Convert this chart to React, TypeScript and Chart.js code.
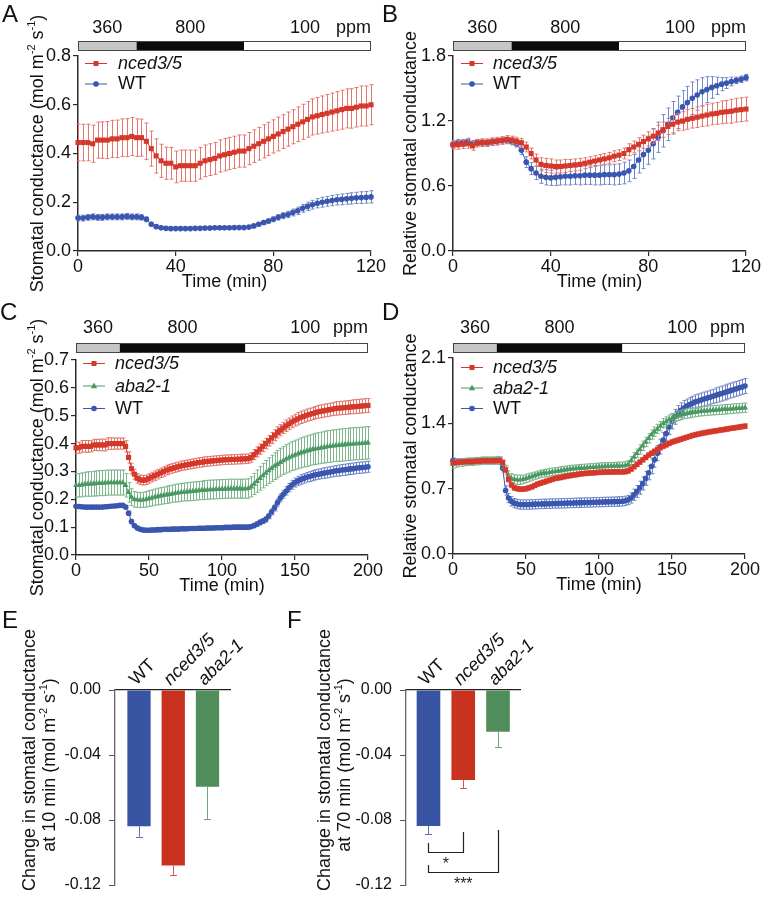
import React, { useEffect, useRef } from "react";
import { Chart, registerables } from "chart.js";

Chart.register(...registerables);

const FONT = '"Liberation Sans", Arial, Helvetica, sans-serif';
Chart.defaults.font.family = FONT;
Chart.defaults.color = "#111";

// ---------- data ----------
const TIME_AB = [0,2,4,6,8,10,12,14,16,18,20,22,24,26,28,30,32,34,36,38,40,42,44,46,48,50,52,54,56,58,60,62,64,66,68,70,72,74,76,78,80,82,84,86,88,90,92,94,96,98,100,102,104,106,108,110,112,114,116,118,120];
const TIME_CD = [0,2,4,6,8,10,12,14,16,18,20,22,24,26,28,30,32,34,36,38,40,42,44,46,48,50,52,54,56,58,60,62,64,66,68,70,72,74,76,78,80,82,84,86,88,90,92,94,96,98,100,102,104,106,108,110,112,114,116,118,120,122,124,126,128,130,132,134,136,138,140,142,144,146,148,150,152,154,156,158,160,162,164,166,168,170,172,174,176,178,180,182,184,186,188,190,192,194,196,198,200];

const A_NCED = [0.445,0.445,0.445,0.44,0.455,0.455,0.455,0.46,0.46,0.465,0.465,0.47,0.465,0.465,0.45,0.42,0.39,0.37,0.36,0.36,0.345,0.35,0.35,0.35,0.35,0.36,0.37,0.375,0.38,0.39,0.395,0.4,0.405,0.41,0.41,0.42,0.43,0.44,0.45,0.46,0.47,0.48,0.49,0.5,0.51,0.52,0.53,0.54,0.55,0.555,0.56,0.565,0.57,0.575,0.58,0.585,0.585,0.59,0.595,0.595,0.6];
const A_NCED_ERR = [0.075,0.075,0.075,0.076,0.074,0.075,0.076,0.076,0.077,0.077,0.078,0.078,0.077,0.076,0.075,0.072,0.07,0.068,0.066,0.065,0.065,0.064,0.064,0.064,0.064,0.065,0.065,0.065,0.065,0.066,0.066,0.066,0.066,0.066,0.066,0.066,0.067,0.067,0.068,0.068,0.068,0.069,0.069,0.07,0.07,0.071,0.072,0.073,0.074,0.075,0.076,0.077,0.078,0.079,0.08,0.08,0.081,0.081,0.082,0.082,0.082];
const A_WT = [0.135,0.135,0.138,0.14,0.138,0.138,0.14,0.14,0.14,0.14,0.142,0.14,0.14,0.138,0.13,0.11,0.1,0.095,0.093,0.092,0.092,0.092,0.092,0.092,0.093,0.093,0.094,0.094,0.095,0.095,0.095,0.095,0.096,0.096,0.096,0.098,0.103,0.11,0.117,0.123,0.13,0.138,0.145,0.15,0.158,0.165,0.175,0.183,0.19,0.196,0.2,0.204,0.207,0.21,0.212,0.214,0.216,0.218,0.219,0.22,0.222];
const A_WT_ERR = [0.012,0.012,0.012,0.012,0.012,0.012,0.012,0.012,0.012,0.012,0.012,0.012,0.012,0.011,0.01,0.008,0.007,0.006,0.006,0.005,0.005,0.005,0.005,0.005,0.005,0.005,0.005,0.005,0.005,0.005,0.005,0.005,0.005,0.005,0.005,0.005,0.006,0.007,0.008,0.009,0.01,0.011,0.012,0.013,0.014,0.015,0.016,0.017,0.018,0.019,0.02,0.02,0.021,0.021,0.022,0.022,0.023,0.023,0.024,0.024,0.025];

const B_NCED = [0.98,0.98,0.985,0.99,0.97,0.995,1.0,1.0,1.01,1.015,1.02,1.03,1.025,1.015,1.0,0.96,0.9,0.84,0.8,0.79,0.785,0.78,0.78,0.785,0.79,0.795,0.8,0.81,0.82,0.83,0.84,0.85,0.86,0.875,0.885,0.9,0.935,0.96,0.985,1.01,1.035,1.06,1.09,1.12,1.15,1.17,1.19,1.2,1.215,1.225,1.235,1.245,1.255,1.265,1.27,1.28,1.285,1.29,1.3,1.305,1.31];
const B_NCED_ERR = [0.04,0.04,0.04,0.04,0.04,0.035,0.035,0.035,0.035,0.035,0.035,0.035,0.035,0.035,0.04,0.045,0.05,0.055,0.06,0.065,0.065,0.06,0.06,0.06,0.055,0.055,0.055,0.05,0.05,0.05,0.05,0.05,0.05,0.05,0.05,0.05,0.055,0.055,0.06,0.06,0.065,0.065,0.07,0.07,0.075,0.08,0.08,0.085,0.09,0.09,0.095,0.095,0.1,0.1,0.1,0.105,0.105,0.11,0.11,0.11,0.11];
const B_WT = [0.98,1.0,1.0,1.01,0.99,1.0,1.0,1.0,1.005,1.01,1.02,1.02,1.01,0.99,0.93,0.82,0.76,0.72,0.69,0.68,0.675,0.68,0.685,0.69,0.69,0.695,0.695,0.7,0.7,0.7,0.7,0.705,0.705,0.705,0.71,0.72,0.74,0.78,0.84,0.89,0.93,0.99,1.05,1.11,1.17,1.23,1.28,1.33,1.37,1.41,1.44,1.47,1.49,1.51,1.525,1.54,1.55,1.565,1.575,1.585,1.6];
const B_WT_ERR = [0.03,0.03,0.03,0.03,0.03,0.03,0.03,0.03,0.03,0.03,0.03,0.03,0.03,0.03,0.04,0.05,0.055,0.06,0.065,0.07,0.07,0.075,0.075,0.08,0.08,0.08,0.085,0.085,0.085,0.09,0.09,0.09,0.09,0.095,0.095,0.1,0.1,0.11,0.12,0.13,0.13,0.14,0.14,0.15,0.15,0.15,0.15,0.15,0.15,0.15,0.14,0.13,0.12,0.1,0.08,0.06,0.05,0.04,0.03,0.03,0.03];

const C_NCED = [0.385,0.385,0.39,0.39,0.39,0.39,0.395,0.395,0.395,0.395,0.395,0.4,0.4,0.4,0.4,0.4,0.4,0.39,0.35,0.31,0.29,0.275,0.27,0.268,0.27,0.275,0.28,0.285,0.29,0.295,0.3,0.305,0.308,0.311,0.314,0.317,0.32,0.322,0.324,0.326,0.328,0.33,0.332,0.333,0.335,0.336,0.337,0.338,0.339,0.34,0.341,0.342,0.342,0.343,0.343,0.344,0.344,0.345,0.345,0.346,0.35,0.36,0.37,0.38,0.39,0.4,0.41,0.42,0.43,0.44,0.448,0.456,0.464,0.471,0.478,0.484,0.489,0.494,0.498,0.502,0.505,0.508,0.511,0.514,0.516,0.518,0.52,0.522,0.524,0.526,0.527,0.528,0.529,0.53,0.531,0.532,0.533,0.534,0.535,0.536,0.537];
const C_NCED_ERR = [0.02,0.02,0.021,0.021,0.021,0.02,0.02,0.02,0.021,0.021,0.021,0.021,0.021,0.02,0.02,0.02,0.02,0.02,0.02,0.019,0.018,0.017,0.017,0.017,0.017,0.017,0.017,0.017,0.017,0.017,0.017,0.017,0.017,0.017,0.017,0.017,0.017,0.017,0.017,0.017,0.017,0.017,0.017,0.017,0.017,0.017,0.017,0.017,0.017,0.017,0.017,0.017,0.017,0.017,0.017,0.017,0.017,0.017,0.017,0.017,0.017,0.018,0.018,0.018,0.019,0.019,0.019,0.02,0.02,0.02,0.02,0.02,0.021,0.021,0.021,0.021,0.022,0.022,0.022,0.022,0.022,0.022,0.022,0.023,0.023,0.023,0.023,0.023,0.023,0.024,0.024,0.024,0.024,0.024,0.024,0.025,0.025,0.025,0.025,0.025,0.025];
const C_ABA = [0.25,0.25,0.252,0.254,0.255,0.255,0.256,0.257,0.258,0.258,0.259,0.26,0.26,0.26,0.26,0.26,0.26,0.25,0.225,0.208,0.2,0.198,0.197,0.198,0.2,0.203,0.205,0.208,0.21,0.212,0.214,0.216,0.218,0.22,0.222,0.223,0.225,0.226,0.227,0.228,0.229,0.23,0.231,0.232,0.233,0.234,0.235,0.235,0.236,0.236,0.237,0.237,0.238,0.238,0.238,0.238,0.238,0.238,0.238,0.239,0.245,0.255,0.265,0.275,0.285,0.294,0.303,0.311,0.319,0.326,0.333,0.339,0.345,0.35,0.355,0.359,0.363,0.367,0.37,0.373,0.376,0.379,0.381,0.383,0.385,0.387,0.389,0.39,0.392,0.393,0.394,0.395,0.396,0.397,0.398,0.399,0.4,0.4,0.401,0.402,0.403];
const C_ABA_ERR = [0.042,0.042,0.043,0.043,0.044,0.044,0.044,0.045,0.045,0.045,0.045,0.045,0.045,0.045,0.045,0.045,0.045,0.042,0.035,0.03,0.028,0.027,0.027,0.027,0.028,0.028,0.029,0.029,0.03,0.03,0.03,0.031,0.031,0.031,0.032,0.032,0.032,0.032,0.033,0.033,0.033,0.033,0.033,0.033,0.034,0.034,0.034,0.034,0.034,0.034,0.034,0.034,0.034,0.034,0.034,0.034,0.034,0.034,0.034,0.035,0.036,0.038,0.04,0.042,0.044,0.045,0.046,0.047,0.048,0.049,0.05,0.05,0.051,0.052,0.052,0.053,0.053,0.054,0.054,0.055,0.055,0.055,0.056,0.056,0.056,0.057,0.057,0.057,0.057,0.057,0.058,0.058,0.058,0.058,0.058,0.058,0.058,0.058,0.058,0.058,0.058];
const C_WT = [0.175,0.174,0.173,0.172,0.172,0.172,0.172,0.172,0.172,0.172,0.173,0.174,0.175,0.176,0.177,0.178,0.178,0.172,0.15,0.12,0.105,0.097,0.092,0.09,0.089,0.089,0.09,0.09,0.091,0.091,0.092,0.092,0.092,0.093,0.093,0.093,0.094,0.094,0.094,0.095,0.095,0.095,0.096,0.096,0.096,0.097,0.097,0.097,0.098,0.098,0.098,0.099,0.099,0.099,0.1,0.1,0.1,0.1,0.1,0.1,0.102,0.106,0.111,0.117,0.122,0.128,0.14,0.155,0.17,0.188,0.205,0.218,0.23,0.242,0.252,0.26,0.266,0.271,0.275,0.279,0.282,0.285,0.288,0.29,0.292,0.294,0.296,0.298,0.3,0.302,0.303,0.305,0.306,0.308,0.309,0.31,0.312,0.313,0.314,0.315,0.317];
const C_WT_ERR = [0.005,0.005,0.005,0.005,0.005,0.005,0.005,0.005,0.005,0.005,0.005,0.005,0.005,0.005,0.005,0.005,0.005,0.006,0.008,0.008,0.007,0.007,0.007,0.007,0.007,0.007,0.007,0.007,0.007,0.007,0.007,0.007,0.007,0.007,0.007,0.007,0.007,0.007,0.007,0.007,0.007,0.007,0.007,0.007,0.007,0.007,0.007,0.007,0.007,0.007,0.007,0.007,0.007,0.007,0.007,0.007,0.007,0.007,0.007,0.007,0.007,0.008,0.008,0.009,0.009,0.01,0.01,0.011,0.012,0.013,0.014,0.014,0.015,0.015,0.016,0.016,0.016,0.017,0.017,0.017,0.018,0.018,0.018,0.018,0.018,0.019,0.019,0.019,0.019,0.019,0.02,0.02,0.02,0.02,0.02,0.02,0.02,0.02,0.02,0.02,0.02];

const D_NCED = [0.98,0.98,0.985,0.985,0.99,0.99,0.99,0.99,0.995,0.995,1.0,1.0,1.0,1.0,1.0,1.0,1.0,0.98,0.9,0.8,0.74,0.71,0.7,0.695,0.695,0.7,0.71,0.72,0.735,0.75,0.76,0.77,0.78,0.79,0.8,0.81,0.815,0.82,0.828,0.835,0.84,0.845,0.85,0.855,0.86,0.862,0.865,0.868,0.87,0.872,0.875,0.876,0.877,0.878,0.879,0.88,0.88,0.88,0.88,0.882,0.89,0.91,0.935,0.96,0.985,1.01,1.035,1.06,1.08,1.1,1.12,1.14,1.155,1.17,1.185,1.2,1.21,1.22,1.23,1.24,1.25,1.26,1.27,1.278,1.285,1.292,1.298,1.304,1.31,1.315,1.32,1.325,1.33,1.335,1.34,1.345,1.35,1.355,1.36,1.365,1.37];
const D_NCED_ERR = [0.025,0.025,0.025,0.025,0.025,0.025,0.025,0.025,0.025,0.025,0.025,0.025,0.025,0.025,0.025,0.025,0.025,0.025,0.03,0.03,0.03,0.028,0.026,0.025,0.025,0.025,0.025,0.025,0.025,0.025,0.025,0.025,0.025,0.025,0.025,0.025,0.025,0.025,0.025,0.025,0.025,0.025,0.025,0.025,0.025,0.025,0.025,0.025,0.025,0.025,0.025,0.025,0.025,0.025,0.025,0.025,0.025,0.025,0.025,0.025,0.025,0.025,0.025,0.025,0.025,0.025,0.025,0.025,0.025,0.025,0.025,0.025,0.025,0.025,0.025,0.025,0.025,0.025,0.025,0.025,0.025,0.025,0.025,0.025,0.025,0.025,0.025,0.025,0.025,0.025,0.025,0.025,0.025,0.025,0.025,0.025,0.025,0.025,0.025,0.025,0.025];
const D_ABA = [0.96,0.97,0.98,0.98,0.985,0.99,0.99,0.99,0.995,0.995,1.0,1.0,1.0,1.0,1.0,1.0,1.0,0.96,0.9,0.84,0.81,0.8,0.795,0.795,0.8,0.81,0.82,0.83,0.84,0.85,0.86,0.865,0.87,0.875,0.88,0.885,0.89,0.895,0.9,0.905,0.91,0.912,0.915,0.918,0.92,0.922,0.925,0.928,0.93,0.932,0.935,0.937,0.938,0.94,0.94,0.942,0.943,0.944,0.945,0.95,0.96,1.0,1.04,1.08,1.12,1.16,1.2,1.24,1.28,1.31,1.34,1.37,1.4,1.42,1.44,1.455,1.47,1.48,1.49,1.5,1.505,1.51,1.515,1.52,1.525,1.53,1.532,1.535,1.538,1.54,1.542,1.545,1.547,1.55,1.552,1.555,1.557,1.56,1.562,1.565,1.567];
const D_ABA_ERR = [0.04,0.04,0.04,0.04,0.04,0.04,0.04,0.04,0.04,0.04,0.04,0.04,0.04,0.04,0.04,0.04,0.04,0.045,0.05,0.05,0.05,0.05,0.05,0.05,0.045,0.045,0.045,0.04,0.04,0.04,0.04,0.04,0.04,0.04,0.04,0.04,0.04,0.04,0.04,0.04,0.04,0.04,0.04,0.04,0.04,0.04,0.04,0.04,0.04,0.04,0.04,0.04,0.04,0.04,0.04,0.04,0.04,0.04,0.04,0.04,0.04,0.045,0.045,0.045,0.05,0.05,0.05,0.05,0.05,0.05,0.05,0.05,0.05,0.05,0.05,0.05,0.05,0.05,0.05,0.05,0.05,0.05,0.05,0.05,0.05,0.05,0.05,0.05,0.05,0.05,0.05,0.05,0.05,0.05,0.05,0.05,0.05,0.05,0.05,0.05,0.05];
const D_WT = [1.0,0.99,0.99,0.99,0.99,0.99,0.99,0.995,0.995,0.995,1.0,1.0,1.0,1.0,1.0,1.01,1.01,0.92,0.68,0.6,0.565,0.545,0.535,0.53,0.53,0.53,0.53,0.532,0.534,0.535,0.536,0.537,0.538,0.539,0.54,0.541,0.542,0.543,0.544,0.545,0.546,0.547,0.548,0.549,0.55,0.551,0.552,0.553,0.554,0.555,0.556,0.557,0.558,0.559,0.56,0.561,0.562,0.563,0.565,0.57,0.58,0.6,0.635,0.67,0.71,0.755,0.81,0.87,0.94,1.01,1.08,1.15,1.22,1.29,1.36,1.42,1.47,1.51,1.54,1.565,1.585,1.6,1.615,1.63,1.64,1.65,1.66,1.67,1.68,1.69,1.7,1.71,1.72,1.73,1.74,1.75,1.76,1.77,1.78,1.79,1.8];
const D_WT_ERR = [0.03,0.03,0.03,0.03,0.03,0.03,0.03,0.03,0.03,0.03,0.03,0.03,0.03,0.03,0.03,0.03,0.03,0.04,0.05,0.05,0.05,0.05,0.05,0.05,0.05,0.05,0.05,0.05,0.05,0.05,0.05,0.05,0.05,0.05,0.05,0.05,0.05,0.05,0.05,0.05,0.05,0.05,0.05,0.05,0.05,0.05,0.05,0.05,0.05,0.05,0.05,0.05,0.05,0.05,0.05,0.05,0.05,0.05,0.05,0.05,0.05,0.055,0.06,0.065,0.07,0.07,0.075,0.075,0.08,0.08,0.08,0.08,0.08,0.08,0.08,0.08,0.08,0.08,0.08,0.08,0.075,0.075,0.075,0.075,0.075,0.075,0.075,0.075,0.075,0.075,0.08,0.08,0.08,0.08,0.08,0.08,0.08,0.08,0.08,0.08,0.08];

const GROUPS = ["WT", "nced3/5", "aba2-1"];
const E_VALUES = [-0.0838, -0.108, -0.0595];
const E_ERRORS = [0.0065, 0.0058, 0.0199];
const F_VALUES = [-0.0837, -0.0554, -0.0257];
const F_ERRORS = [0.005, 0.0051, 0.0096];

const A_YTICKS = [0, 0.2, 0.4, 0.6, 0.8];
const B_YTICKS = [0, 0.6, 1.2, 1.8];
const C_YTICKS = [0, 0.1, 0.2, 0.3, 0.4, 0.5, 0.6, 0.7];
const D_YTICKS = [0, 0.7, 1.4, 2.1];
const AB_XTICKS = [0, 40, 80, 120];
const CD_XTICKS = [0, 50, 100, 150, 200];
const EF_YTICKS = [-0.12, -0.08, -0.04, 0];
const PPM_LABELS = ["360", "800", "100"];
const AB_PPM_EDGES = [0, 24, 68, 120];
const CD_PPM_EDGES = [0, 30, 116, 200];
const AB_PPM_LABEL_AT = [12, 46, 93];
const CD_PPM_LABEL_AT = [15, 73, 157];

// ---------- styles ----------
const FS = 18;
const RED = "#d5372a", RED_ERR = "#e3766d";
const BLUE = "#3a56ae", BLUE_ERR = "#7288c8";
const GREEN = "#4a9862", GREEN_ERR = "#7db78d";
const BAR_COLORS = ["#3a54a4", "#c9321f", "#4f8d5a"];
const BAR_ERR_COLORS = ["#5a70bb", "#d9574a", "#6ea67a"];
const AXIS = "#2a2a2a";

type Seg = { t: string; sup?: boolean };
const COND_TITLE: Seg[] = [{ t: "Stomatal conductance (mol m" }, { t: "-2", sup: true }, { t: " s" }, { t: "-1", sup: true }, { t: ")" }];
const REL_TITLE: Seg[] = [{ t: "Relative stomatal conductance" }];

function drawRich(ctx: CanvasRenderingContext2D, segs: Seg[], x: number, y: number, size: number, rotate: boolean) {
  ctx.save();
  ctx.translate(x, y);
  if (rotate) ctx.rotate(-Math.PI / 2);
  ctx.textBaseline = "alphabetic";
  ctx.textAlign = "left";
  ctx.fillStyle = "#111";
  const supSize = Math.round(size * 0.62);
  const widths = segs.map((s) => {
    ctx.font = `${s.sup ? supSize : size}px ${FONT}`;
    return ctx.measureText(s.t).width;
  });
  const total = widths.reduce((a, b) => a + b, 0);
  let cx = -total / 2;
  segs.forEach((s, i) => {
    ctx.font = `${s.sup ? supSize : size}px ${FONT}`;
    ctx.fillText(s.t, cx, s.sup ? -size * 0.42 : 0);
    cx += widths[i];
  });
  ctx.restore();
}

function drawMarker(ctx: CanvasRenderingContext2D, style: string, x: number, y: number, color: string) {
  ctx.save();
  ctx.fillStyle = color;
  ctx.beginPath();
  if (style === "rect") ctx.rect(x - 2.5, y - 2.5, 5, 5);
  else if (style === "circle") ctx.arc(x, y, 2.8, 0, Math.PI * 2);
  else {
    ctx.moveTo(x, y - 3.4);
    ctx.lineTo(x + 3.2, y + 2.2);
    ctx.lineTo(x - 3.2, y + 2.2);
    ctx.closePath();
  }
  ctx.fill();
  ctx.restore();
}

type SeriesCfg = { label: string; italic: boolean; values: number[]; errors: number[]; color: string; errColor: string; marker: string };

const LINE_PANELS: any[] = [
  {
    letter: "A", left: 0, top: 0, width: 400, height: 300,
    area: { l: 78, r: 371, t: 56, b: 251 }, time: TIME_AB, xMax: 120, xTicks: AB_XTICKS, yMax: 0.8, yTicks: A_YTICKS,
    series: [
      { label: "nced3/5", italic: true, values: A_NCED, errors: A_NCED_ERR, color: RED, errColor: RED_ERR, marker: "rect" },
      { label: "WT", italic: false, values: A_WT, errors: A_WT_ERR, color: BLUE, errColor: BLUE_ERR, marker: "circle" },
    ],
    ppmEdges: AB_PPM_EDGES, ppmAt: AB_PPM_LABEL_AT, ppmBar: [41, 51], ppmBase: 33,
    legend: { x1: 85, x2: 107, tx: 118, y0: 63, gap: 20.5 },
    yTitle: COND_TITLE, yTitleX: 42.5, xTitleY: 287, letterPos: [2, 22],
  },
  {
    letter: "B", left: 381, top: 0, width: 381, height: 300,
    area: { l: 72, r: 365, t: 56, b: 251 }, time: TIME_AB, xMax: 120, xTicks: AB_XTICKS, yMax: 1.8, yTicks: B_YTICKS,
    series: [
      { label: "nced3/5", italic: true, values: B_NCED, errors: B_NCED_ERR, color: RED, errColor: RED_ERR, marker: "rect" },
      { label: "WT", italic: false, values: B_WT, errors: B_WT_ERR, color: BLUE, errColor: BLUE_ERR, marker: "circle" },
    ],
    ppmEdges: AB_PPM_EDGES, ppmAt: AB_PPM_LABEL_AT, ppmBar: [41, 51], ppmBase: 33,
    legend: { x1: 80, x2: 102, tx: 112, y0: 63, gap: 20.5 },
    yTitle: REL_TITLE, yTitleX: 35, xTitleY: 287, letterPos: [1, 22],
  },
  {
    letter: "C", left: 0, top: 300, width: 400, height: 300,
    area: { l: 76, r: 368, t: 60, b: 255 }, time: TIME_CD, xMax: 200, xTicks: CD_XTICKS, yMax: 0.7, yTicks: C_YTICKS,
    series: [
      { label: "nced3/5", italic: true, values: C_NCED, errors: C_NCED_ERR, color: RED, errColor: RED_ERR, marker: "rect" },
      { label: "aba2-1", italic: true, values: C_ABA, errors: C_ABA_ERR, color: GREEN, errColor: GREEN_ERR, marker: "triangle" },
      { label: "WT", italic: false, values: C_WT, errors: C_WT_ERR, color: BLUE, errColor: BLUE_ERR, marker: "circle" },
    ],
    ppmEdges: CD_PPM_EDGES, ppmAt: CD_PPM_LABEL_AT, ppmBar: [43, 53], ppmBase: 33,
    legend: { x1: 83, x2: 105, tx: 115, y0: 63, gap: 22.5 },
    yTitle: COND_TITLE, yTitleX: 43, xTitleY: 291, letterPos: [0, 20],
  },
  {
    letter: "D", left: 381, top: 300, width: 381, height: 300,
    area: { l: 72, r: 364, t: 58, b: 254 }, time: TIME_CD, xMax: 200, xTicks: CD_XTICKS, yMax: 2.1, yTicks: D_YTICKS,
    series: [
      { label: "nced3/5", italic: true, values: D_NCED, errors: D_NCED_ERR, color: RED, errColor: RED_ERR, marker: "rect" },
      { label: "aba2-1", italic: true, values: D_ABA, errors: D_ABA_ERR, color: GREEN, errColor: GREEN_ERR, marker: "triangle" },
      { label: "WT", italic: false, values: D_WT, errors: D_WT_ERR, color: BLUE, errColor: BLUE_ERR, marker: "circle" },
    ],
    ppmEdges: CD_PPM_EDGES, ppmAt: CD_PPM_LABEL_AT, ppmBar: [43, 53], ppmBase: 33,
    legend: { x1: 80, x2: 102, tx: 112, y0: 67, gap: 20.5 },
    yTitle: REL_TITLE, yTitleX: 35, xTitleY: 290, letterPos: [1, 20],
  },
];

function linePlugin(cfg: any) {
  return {
    id: "panelExtras",
    beforeDatasetDraw(chart: any, args: any) {
      const s: SeriesCfg = cfg.series[args.index];
      const ys = chart.scales.y;
      const ctx: CanvasRenderingContext2D = chart.ctx;
      ctx.save();
      ctx.strokeStyle = s.errColor;
      ctx.lineWidth = 1;
      ctx.beginPath();
      args.meta.data.forEach((el: any, i: number) => {
        const v = s.values[i], e = s.errors[i];
        const x = Math.round(el.x) + 0.5;
        const y1 = ys.getPixelForValue(v + e), y2 = ys.getPixelForValue(v - e);
        ctx.moveTo(x, y1); ctx.lineTo(x, y2);
        ctx.moveTo(x - 2, y1); ctx.lineTo(x + 2, y1);
        ctx.moveTo(x - 2, y2); ctx.lineTo(x + 2, y2);
      });
      ctx.stroke();
      ctx.restore();
    },
    afterDraw(chart: any) {
      const ctx: CanvasRenderingContext2D = chart.ctx;
      const xs = chart.scales.x;
      const a = chart.chartArea;
      ctx.save();
      ctx.fillStyle = "#111";
      ctx.font = `24px ${FONT}`;
      ctx.textAlign = "left";
      ctx.textBaseline = "alphabetic";
      ctx.fillText(cfg.letter, cfg.letterPos[0], cfg.letterPos[1]);
      // ppm bar
      const [bt, bb] = cfg.ppmBar;
      const fills = ["#c6c6c6", "#0b0b0b", "#ffffff"];
      for (let i = 0; i < 3; i++) {
        const x1 = xs.getPixelForValue(cfg.ppmEdges[i]);
        const x2 = xs.getPixelForValue(cfg.ppmEdges[i + 1]);
        ctx.fillStyle = fills[i];
        ctx.fillRect(x1, bt, x2 - x1, bb - bt);
      }
      ctx.strokeStyle = "#444";
      ctx.lineWidth = 1;
      const bx1 = xs.getPixelForValue(cfg.ppmEdges[0]);
      const bx2 = xs.getPixelForValue(cfg.ppmEdges[3]);
      ctx.strokeRect(bx1 + 0.5, bt + 0.5, bx2 - bx1 - 1, bb - bt - 1);
      ctx.fillStyle = "#111";
      ctx.font = `${FS}px ${FONT}`;
      ctx.textAlign = "center";
      PPM_LABELS.forEach((lab, i) => ctx.fillText(lab, xs.getPixelForValue(cfg.ppmAt[i]), cfg.ppmBase));
      ctx.textAlign = "right";
      ctx.fillText("ppm", a.right, cfg.ppmBase);
      // legend
      const lg = cfg.legend;
      cfg.series.forEach((s: SeriesCfg, i: number) => {
        const y = lg.y0 + i * lg.gap;
        ctx.strokeStyle = s.color;
        ctx.lineWidth = 1;
        ctx.beginPath();
        ctx.moveTo(lg.x1, y + 0.5);
        ctx.lineTo(lg.x2, y + 0.5);
        ctx.stroke();
        drawMarker(ctx, s.marker, (lg.x1 + lg.x2) / 2, y + 0.5, s.color);
        ctx.fillStyle = "#111";
        ctx.font = `${s.italic ? "italic " : ""}${FS}px ${FONT}`;
        ctx.textAlign = "left";
        ctx.textBaseline = "middle";
        ctx.fillText(s.label, lg.tx, y + 1);
      });
      ctx.textBaseline = "alphabetic";
      drawRich(ctx, [{ t: "Time (min)" }], (a.left + a.right) / 2, cfg.xTitleY, FS, false);
      drawRich(ctx, cfg.yTitle, cfg.yTitleX, (a.top + a.bottom) / 2, FS, true);
      ctx.restore();
    },
  };
}

function lineConfig(cfg: any): any {
  const ar = cfg.area;
  const axisCommon = {
    grid: { display: true, drawOnChartArea: false, drawTicks: true, tickLength: 5, color: AXIS, lineWidth: 1.2 },
    border: { display: true, color: AXIS, width: 1.5 },
  };
  return {
    type: "line",
    data: {
      datasets: cfg.series.map((s: SeriesCfg) => ({
        label: s.label,
        data: cfg.time.map((t: number, i: number) => ({ x: t, y: s.values[i] })),
        borderColor: s.color,
        backgroundColor: s.color,
        borderWidth: 1,
        pointStyle: s.marker,
        pointRadius: s.marker === "rect" ? 3.6 : s.marker === "circle" ? 2.8 : 3.4,
        pointBackgroundColor: s.color,
        pointBorderColor: s.color,
        pointBorderWidth: 0,
        tension: 0,
        clip: false,
      })),
    },
    options: {
      responsive: false,
      animation: false,
      events: [],
      layout: { padding: { left: 0, top: ar.t, right: cfg.width - ar.r, bottom: 0 } },
      plugins: { legend: { display: false }, tooltip: { enabled: false } },
      scales: {
        x: {
          type: "linear", min: 0, max: cfg.xMax,
          afterBuildTicks: (s: any) => { s.ticks = cfg.xTicks.map((v: number) => ({ value: v })); },
          afterFit: (s: any) => { s.height = cfg.height - ar.b; s.paddingLeft = 0; s.paddingRight = 0; },
          ticks: { font: { size: FS }, color: "#111", padding: 0, minRotation: 0, maxRotation: 0, autoSkip: false, callback: (v: any) => String(v) },
          ...axisCommon,
        },
        y: {
          type: "linear", min: 0, max: cfg.yMax,
          afterBuildTicks: (s: any) => { s.ticks = cfg.yTicks.map((v: number) => ({ value: v })); },
          afterFit: (s: any) => { s.width = ar.l; s.paddingTop = 0; s.paddingBottom = 0; },
          ticks: { font: { size: FS }, color: "#111", padding: 2, autoSkip: false, callback: (v: any) => Number(v).toFixed(1) },
          ...axisCommon,
        },
      },
    },
    plugins: [linePlugin(cfg)],
  };
}

const BRACKETS = [
  { x1: 1, x2: 2, yL: -0.0942, yR: -0.0874, yH: -0.0997, label: "*", ly: -0.1046 },
  { x1: 1, x2: 3, yL: -0.1077, yR: -0.0862, yH: -0.112, label: "***", ly: -0.117 },
];

const BAR_PANELS: any[] = [
  {
    letter: "E", left: 0, top: 600, width: 280, height: 301,
    area: { l: 115, r: 230, t: 90, b: 285 }, values: E_VALUES, errors: E_ERRORS, xMin: 0.2993, xMax: 3.657,
    yTitle1: [{ t: "Change in stomatal conductance" }],
    yTitle2: [{ t: "at 10 min (mol m" }, { t: "-2", sup: true }, { t: " s" }, { t: "-1", sup: true }, { t: ")" }],
    tx1: 35, tx2: 55, tcy1: 160, tcy2: 165, letterPos: [2, 28], brackets: false,
  },
  {
    letter: "F", left: 280, top: 600, width: 482, height: 301,
    area: { l: 126, r: 240, t: 90, b: 285 }, values: F_VALUES, errors: F_ERRORS, xMin: 0.353, xMax: 3.633,
    yTitle1: [{ t: "Change in stomatal conductance" }],
    yTitle2: [{ t: "at 70 min (mol m" }, { t: "-2", sup: true }, { t: " s" }, { t: "-1", sup: true }, { t: ")" }],
    tx1: 49.5, tx2: 70, tcy1: 160, tcy2: 165, letterPos: [7, 28], brackets: true,
  },
];

function barPlugin(cfg: any) {
  return {
    id: "barExtras",
    afterDatasetsDraw(chart: any) {
      const ctx: CanvasRenderingContext2D = chart.ctx;
      const ys = chart.scales.y;
      const meta = chart.getDatasetMeta(0);
      ctx.save();
      ctx.lineWidth = 1;
      meta.data.forEach((el: any, i: number) => {
        const v = cfg.values[i], e = cfg.errors[i];
        const x = Math.round(el.x) + 0.5;
        const y1 = ys.getPixelForValue(v), y2 = ys.getPixelForValue(v - e);
        ctx.strokeStyle = BAR_ERR_COLORS[i];
        ctx.beginPath();
        ctx.moveTo(x, y1); ctx.lineTo(x, y2);
        ctx.moveTo(x - 3.5, Math.round(y2) + 0.5); ctx.lineTo(x + 3.5, Math.round(y2) + 0.5);
        ctx.stroke();
      });
      ctx.restore();
    },
    afterDraw(chart: any) {
      const ctx: CanvasRenderingContext2D = chart.ctx;
      const xs = chart.scales.x, ys = chart.scales.y;
      ctx.save();
      ctx.fillStyle = "#111";
      ctx.font = `24px ${FONT}`;
      ctx.textAlign = "left";
      ctx.textBaseline = "alphabetic";
      ctx.fillText(cfg.letter, cfg.letterPos[0], cfg.letterPos[1]);
      drawRich(ctx, cfg.yTitle1, cfg.tx1, cfg.tcy1, FS, true);
      drawRich(ctx, cfg.yTitle2, cfg.tx2, cfg.tcy2, FS, true);
      if (cfg.brackets) {
        ctx.strokeStyle = "#222";
        ctx.lineWidth = 1.2;
        BRACKETS.forEach((b) => {
          const x1 = Math.round(xs.getPixelForValue(b.x1)) + 0.5;
          const x2 = Math.round(xs.getPixelForValue(b.x2)) + 0.5;
          const yh = Math.round(ys.getPixelForValue(b.yH)) + 0.5;
          ctx.beginPath();
          ctx.moveTo(x1, ys.getPixelForValue(b.yL));
          ctx.lineTo(x1, yh);
          ctx.lineTo(x2, yh);
          ctx.lineTo(x2, ys.getPixelForValue(b.yR));
          ctx.stroke();
          ctx.fillStyle = "#222";
          ctx.font = `16px ${FONT}`;
          ctx.textAlign = "center";
          ctx.fillText(b.label, xs.getPixelForValue((b.x1 + b.x2) / 2), ys.getPixelForValue(b.ly) + 9);
        });
      }
      ctx.restore();
    },
  };
}

function barConfig(cfg: any): any {
  const ar = cfg.area;
  return {
    type: "bar",
    data: {
      datasets: [
        {
          data: cfg.values.map((v: number, i: number) => ({ x: i + 1, y: v })),
          backgroundColor: BAR_COLORS,
          borderWidth: 0,
          barPercentage: 0.68,
          categoryPercentage: 1,
        },
      ],
    },
    options: {
      responsive: false,
      animation: false,
      events: [],
      layout: { padding: { left: 0, top: 0, right: cfg.width - ar.r, bottom: cfg.height - ar.b } },
      plugins: { legend: { display: false }, tooltip: { enabled: false } },
      scales: {
        x: {
          type: "linear", position: "top", min: cfg.xMin, max: cfg.xMax, offset: false,
          afterBuildTicks: (s: any) => { s.ticks = GROUPS.map((_g: string, i: number) => ({ value: i + 1 })); },
          afterFit: (s: any) => { s.height = ar.t; s.paddingLeft = 0; s.paddingRight = 0; },
          ticks: {
            autoSkip: false, minRotation: 45, maxRotation: 45, padding: -8, labelOffset: 9, color: "#111",
            font: (c: any) => ({ size: FS, family: FONT, style: c.index === 0 ? "normal" : "italic" }),
            callback: (v: any) => GROUPS[Math.round(Number(v)) - 1],
          },
          grid: { display: false },
          border: { display: true, color: "#222", width: 1.3 },
        },
        y: {
          type: "linear", min: -0.12, max: 0,
          afterBuildTicks: (s: any) => { s.ticks = EF_YTICKS.map((v) => ({ value: v })); },
          afterFit: (s: any) => { s.width = ar.l; s.paddingTop = 0; s.paddingBottom = 0; },
          ticks: { font: { size: 16 }, color: "#111", padding: 8, autoSkip: false, callback: (v: any) => Number(v).toFixed(2) },
          grid: { display: true, drawOnChartArea: false, drawTicks: true, tickLength: 6, color: "#555", lineWidth: 1 },
          border: { display: true, color: "#666", width: 1.3 },
        },
      },
    },
    plugins: [barPlugin(cfg)],
  };
}

function Panel({ cfg, kind }: { cfg: any; kind: string }) {
  const ref = useRef<HTMLCanvasElement>(null);
  useEffect(() => {
    if (!ref.current) return;
    const chart = new Chart(ref.current, kind === "line" ? lineConfig(cfg) : barConfig(cfg));
    return () => chart.destroy();
  }, [cfg, kind]);
  return (
    <canvas
      ref={ref}
      width={cfg.width}
      height={cfg.height}
      style={{ position: "absolute", left: cfg.left, top: cfg.top, width: cfg.width, height: cfg.height }}
    />
  );
}

export default function App() {
  return (
    <div style={{ position: "absolute", left: 0, top: 0, width: 762, height: 901, background: "#fff", overflow: "hidden" }}>
      {LINE_PANELS.map((c) => (
        <Panel key={c.letter} cfg={c} kind="line" />
      ))}
      {BAR_PANELS.map((c) => (
        <Panel key={c.letter} cfg={c} kind="bar" />
      ))}
    </div>
  );
}
